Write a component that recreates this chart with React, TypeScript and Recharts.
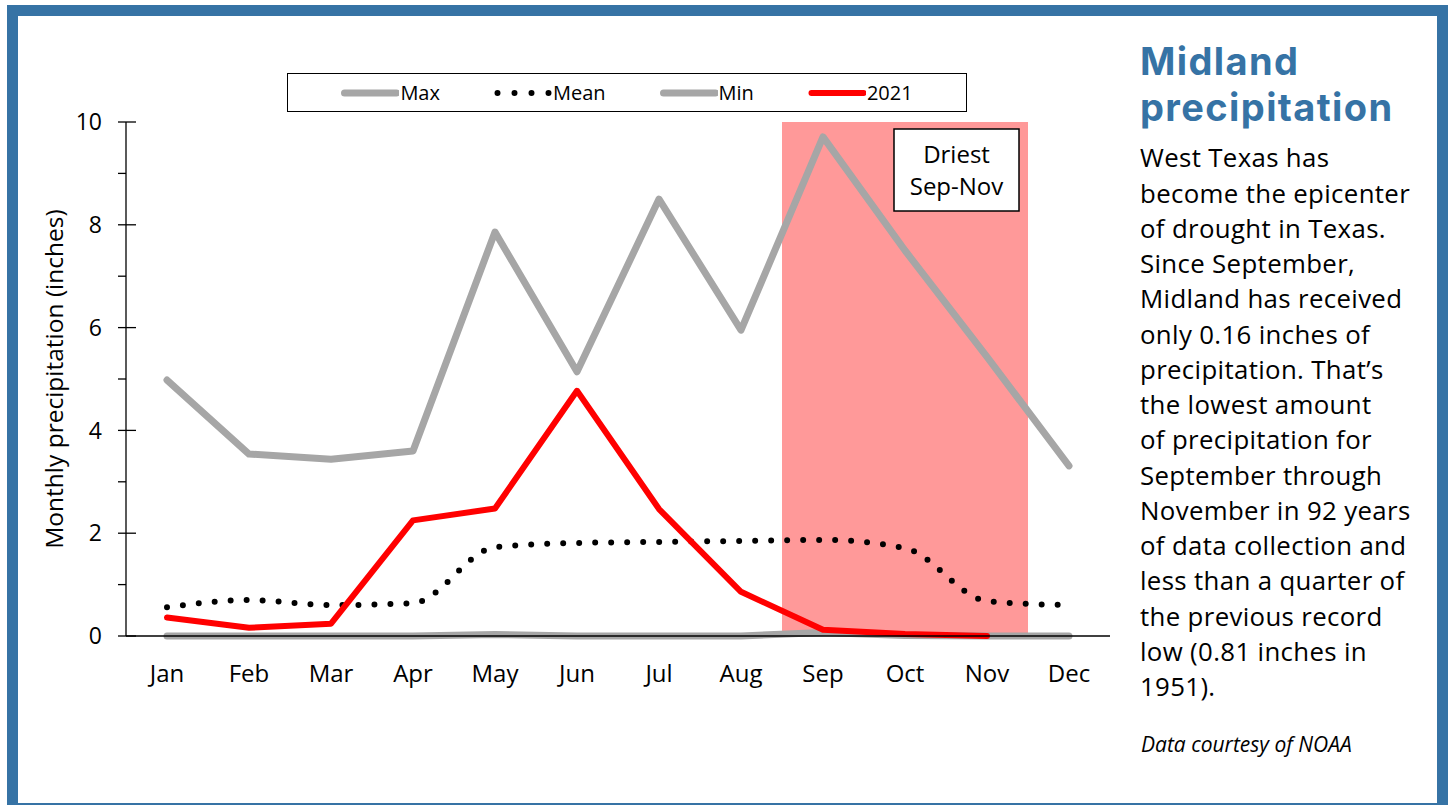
import React from 'react';
import { LineChart, Line, XAxis, YAxis, ReferenceArea, Legend } from 'recharts';

const months = ['Jan', 'Feb', 'Mar', 'Apr', 'May', 'Jun', 'Jul', 'Aug', 'Sep', 'Oct', 'Nov', 'Dec'];
const monthNumbers = [1, 2, 3, 4, 5, 6, 7, 8, 9, 10, 11, 12];
const maxValues = [4.98, 3.54, 3.44, 3.6, 7.86, 5.14, 8.5, 5.95, 9.71, 7.5, 5.43, 3.31];
const meanValues = [0.56, 0.7, 0.6, 0.64, 1.73, 1.81, 1.83, 1.85, 1.87, 1.71, 0.68, 0.6];
const minValues = [0, 0, 0, 0, 0.03, 0, 0, 0, 0.07, 0.01, 0, 0];
const values2021: (number | null)[] = [0.36, 0.16, 0.24, 2.25, 2.48, 4.77, 2.47, 0.86, 0.12, 0.04, 0.0, null];
const yTicks = [0, 1, 2, 3, 4, 5, 6, 7, 8, 9, 10];
const monthBoundaries = [0.5, 1.5, 2.5, 3.5, 4.5, 5.5, 6.5, 7.5, 8.5, 9.5, 10.5, 11.5, 12.5];
const driestStart = 8.5;
const driestEnd = 11.5;
const driestLines = ['Driest', 'Sep-Nov'];

const titleLines = ['Midland', 'precipitation'];
const bodyLines = [
  'West Texas has',
  'become the epicenter',
  'of drought in Texas.',
  'Since September,',
  'Midland has received',
  'only 0.16 inches of',
  'precipitation. That\u2019s',
  'the lowest amount',
  'of precipitation for',
  'September through',
  'November in 92 years',
  'of data collection and',
  'less than a quarter of',
  'the previous record',
  'low (0.81 inches in',
  '1951).',
];
const creditText = 'Data courtesy of NOAA';

const data = monthNumbers.map((m, i) => ({
  m,
  name: months[i],
  max: maxValues[i],
  mean: meanValues[i],
  min: minValues[i],
  y2021: values2021[i],
}));

const FONT = "'Open Sans', sans-serif";
const TITLE_FONT = "Inter, 'Open Sans', sans-serif";
const BLUE = '#3673A5';
const GRAY = '#A6A6A6';
const RED = '#FF0000';
const PINK = '#FF9999';

const legendItems = [
  { label: 'Max', color: GRAY, width: 7, dash: undefined as string | undefined },
  { label: 'Mean', color: '#000', width: 6, dash: '0 17' },
  { label: 'Min', color: GRAY, width: 7, dash: undefined as string | undefined },
  { label: '2021', color: RED, width: 6, dash: undefined as string | undefined },
];

const Y_TICK_SIZE = 8;
const Y_TICK_MARGIN = 16;

const YTick = (props: any) => {
  const { x, y, payload } = props;
  const v = payload.value;
  const major = v % 2 === 0;
  if (!major) return <g />;
  const ax = x + Y_TICK_MARGIN + Y_TICK_SIZE;
  return (
    <g>
      <line x1={ax} x2={ax + 10} y1={y} y2={y} stroke="#000" strokeWidth={1.3} />
      <text x={x} y={y} dy="0.36em" textAnchor="end" fontFamily={FONT} fontSize={23} fill="#000">
        {v}
      </text>
    </g>
  );
};

const XTick = (props: any) => {
  const { x, y, payload } = props;
  const idx = monthNumbers.indexOf(payload.value);
  return (
    <text x={x} y={y} dy={36} textAnchor="middle" fontFamily={FONT} fontSize={24} fill="#000">
      {months[idx]}
    </text>
  );
};

const YLabel = (props: any) => {
  const vb = props.viewBox || {};
  const cx = vb.x - 13;
  const cy = vb.y + vb.height / 2;
  return (
    <text
      x={cx}
      y={cy}
      transform={`rotate(-90 ${cx} ${cy})`}
      textAnchor="middle"
      dominantBaseline="central"
      fontFamily={FONT}
      fontSize={24.5}
      fill="#000"
    >
      Monthly precipitation (inches)
    </text>
  );
};

const DriestLabel = (props: any) => {
  const vb = props.viewBox || {};
  const w = 125;
  const h = 82;
  const bx = vb.x + vb.width - w - 9;
  const by = vb.y + 7;
  return (
    <g>
      <rect x={bx} y={by} width={w} height={h} fill="#fff" stroke="#000" strokeWidth={1.5} />
      {driestLines.map((t, i) => (
        <text
          key={t}
          x={bx + w / 2}
          y={by + 34 + i * 32}
          textAnchor="middle"
          fontFamily={FONT}
          fontSize={24}
          fill="#000"
        >
          {t}
        </text>
      ))}
    </g>
  );
};

const LegendBox = () => (
  <div
    style={{
      width: '100%',
      height: '100%',
      boxSizing: 'border-box',
      border: '1.5px solid #000',
      background: '#fff',
      display: 'flex',
      alignItems: 'center',
      justifyContent: 'center',
      fontFamily: FONT,
      fontSize: 20,
      color: '#000',
    }}
  >
    {legendItems.map((it, i) => (
      <div
        key={it.label}
        style={{ display: 'flex', alignItems: 'center', marginLeft: i === 0 ? 0 : 54 }}
      >
        <svg width={58} height={20} style={{ display: 'block' }}>
          <line
            x1={3.5}
            x2={55.5}
            y1={10}
            y2={10}
            stroke={it.color}
            strokeWidth={it.width}
            strokeLinecap="round"
            strokeDasharray={it.dash}
          />
        </svg>
        <span style={{ marginLeft: 1, lineHeight: '20px' }}>{it.label}</span>
      </div>
    ))}
  </div>
);

export default function App() {
  return (
    <div
      style={{
        position: 'absolute',
        left: 0,
        top: 0,
        width: 1450,
        height: 805,
        overflow: 'hidden',
        background: '#fff',
        fontFamily: FONT,
      }}
    >
      <div
        style={{
          position: 'absolute',
          left: 7,
          top: 5,
          width: 1441,
          height: 809,
          boxSizing: 'border-box',
          border: `11px solid ${BLUE}`,
        }}
      />
      <div style={{ position: 'absolute', left: 0, top: 0 }}>
        <LineChart
          width={1130}
          height={805}
          data={data}
          margin={{ top: 122, left: 66, right: 20, bottom: 109 }}
        >
          <XAxis
            xAxisId="grid"
            type="number"
            dataKey="m"
            domain={[0.5, 12.5]}
            ticks={monthBoundaries}
            tick={false}
            tickSize={8}
            height={10}
            axisLine={{ stroke: '#000', strokeWidth: 1.3 }}
            tickLine={{ stroke: '#000', strokeWidth: 1.3 }}
            allowDecimals
          />
          <XAxis
            xAxisId="m"
            type="number"
            dataKey="m"
            domain={[0.5, 12.5]}
            ticks={monthNumbers}
            tick={<XTick />}
            tickLine={false}
            tickSize={0}
            tickMargin={0}
            axisLine={false}
            height={50}
            interval={0}
          />
          <XAxis
            xAxisId="top"
            orientation="top"
            type="number"
            dataKey="m"
            domain={[0.5, 12.5]}
            tick={false}
            tickLine={false}
            height={0}
            axisLine={{ stroke: '#000', strokeWidth: 1.3 }}
          />
          <YAxis
            yAxisId="v"
            domain={[0, 10]}
            ticks={yTicks}
            interval={0}
            width={60}
            tickSize={Y_TICK_SIZE}
            tickMargin={Y_TICK_MARGIN}
            tick={<YTick />}
            axisLine={{ stroke: '#000', strokeWidth: 1.3 }}
            tickLine={{ stroke: '#000', strokeWidth: 1.3 }}
            label={<YLabel />}
          />
          <YAxis
            yAxisId="right"
            orientation="right"
            domain={[0, 10]}
            width={0}
            tick={false}
            tickLine={false}
            axisLine={{ stroke: '#000', strokeWidth: 1.3 }}
          />
          <ReferenceArea
            xAxisId="m"
            yAxisId="v"
            x1={driestStart}
            x2={driestEnd}
            y1={0}
            y2={10}
            fill={PINK}
            fillOpacity={1}
            stroke="none"
            label={<DriestLabel />}
          />
          <Line
            xAxisId="m"
            yAxisId="v"
            dataKey="max"
            name="Max"
            type="linear"
            stroke={GRAY}
            strokeWidth={7}
            strokeLinecap="round"
            strokeLinejoin="round"
            dot={false}
            activeDot={false}
            isAnimationActive={false}
          />
          <Line
            xAxisId="m"
            yAxisId="v"
            dataKey="min"
            name="Min"
            type="linear"
            stroke={GRAY}
            strokeWidth={7}
            strokeLinecap="round"
            strokeLinejoin="round"
            dot={false}
            activeDot={false}
            isAnimationActive={false}
          />
          <Line
            xAxisId="m"
            yAxisId="v"
            dataKey="mean"
            name="Mean"
            type="monotone"
            stroke="#000"
            strokeWidth={6}
            strokeDasharray="0 16"
            strokeLinecap="round"
            dot={false}
            activeDot={false}
            isAnimationActive={false}
          />
          <Line
            xAxisId="m"
            yAxisId="v"
            dataKey="y2021"
            name="2021"
            type="linear"
            stroke={RED}
            strokeWidth={6}
            strokeLinecap="round"
            strokeLinejoin="round"
            dot={false}
            activeDot={false}
            connectNulls={false}
            isAnimationActive={false}
          />
          <Legend
            layout="horizontal"
            verticalAlign="middle"
            align="center"
            content={() => <LegendBox />}
            wrapperStyle={{ position: 'absolute', left: 287, top: 73, width: 680, height: 39 }}
          />
        </LineChart>
      </div>
      <div
        style={{
          position: 'absolute',
          left: 1140,
          top: 38,
          fontFamily: TITLE_FONT,
          fontWeight: 700,
          fontSize: 38,
          letterSpacing: 1.4,
          lineHeight: '46px',
          color: BLUE,
          whiteSpace: 'nowrap',
        }}
      >
        {titleLines.map((t) => (
          <div key={t}>{t}</div>
        ))}
      </div>
      <div
        style={{
          position: 'absolute',
          left: 1140,
          top: 140.3,
          fontFamily: FONT,
          fontSize: 25.8,
          letterSpacing: 0.35,
          lineHeight: '35.27px',
          color: '#000',
          whiteSpace: 'nowrap',
        }}
      >
        {bodyLines.map((t, i) => (
          <div key={i}>{t}</div>
        ))}
      </div>
      <div
        style={{
          position: 'absolute',
          left: 1141,
          top: 731,
          fontFamily: FONT,
          fontStyle: 'italic',
          fontSize: 21,
          lineHeight: '26px',
          color: '#000',
          whiteSpace: 'nowrap',
        }}
      >
        {creditText}
      </div>
    </div>
  );
}
